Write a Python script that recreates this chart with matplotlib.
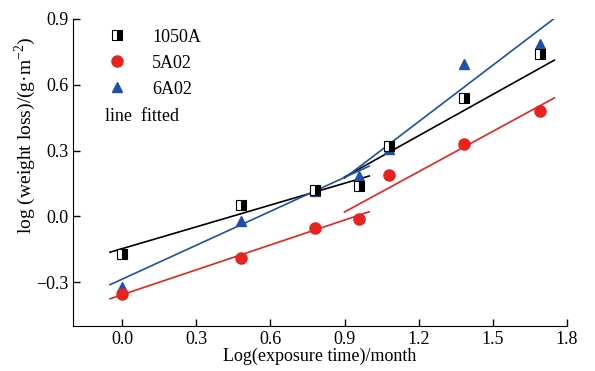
import numpy as np
import matplotlib
matplotlib.use("Agg")
import matplotlib.pyplot as plt
from matplotlib.lines import Line2D
from matplotlib.ticker import FuncFormatter

plt.rcParams['font.family'] = ['Liberation Serif', 'DejaVu Serif']
plt.rcParams['font.size'] = 13

# log(exposure time) in months
log_time = [0.0, 0.48, 0.78, 0.96, 1.08, 1.385, 1.69]

# log(weight loss) per alloy
w_1050a = [-0.17, 0.05, 0.118, 0.14, 0.32, 0.54, 0.74]
w_5a02 = [-0.355, -0.19, -0.055, -0.013, 0.19, 0.33, 0.48]
w_6a02 = [-0.32, -0.02, 0.115, 0.186, 0.305, 0.695, 0.786]

# fitted lines: two segments each (slope, intercept) over given x ranges
seg_ranges = [(-0.05, 1.0), (0.9, 1.75)]
fit_1050a = [(0.331, -0.147), (0.627, -0.385)]
fit_5a02 = [(0.378, -0.357), (0.612, -0.531)]
fit_6a02 = [(0.515, -0.286), (0.857, -0.597)]

BLUE = '#1f4fa8'
RED = '#e8221e'


def fmt(v, pos):
    # one decimal, real minus sign
    return f"{v:.1f}".replace('-', '\u2212')


fig = plt.figure(figsize=(5.95, 3.71), dpi=100)
ax = fig.add_axes([0.1227, 0.1213, 0.8297, 0.8275])

# fitted lines
for fits, color in [(fit_1050a, 'black'), (fit_6a02, BLUE), (fit_5a02, RED)]:
    for (slope, icpt), (x0, x1) in zip(fits, seg_ranges):
        xs = np.array([x0, x1])
        ax.plot(xs, slope * xs + icpt, color=color, lw=1.2)

# data points
ax.plot(log_time, w_6a02, ls='none', marker='^', ms=7, color=BLUE)
ax.plot(log_time, w_5a02, ls='none', marker='o', ms=8, color=RED)
ax.plot(log_time, w_1050a, ls='none', marker='s', ms=6.5, fillstyle='right',
        markerfacecolor='black', markerfacecoloralt='white',
        markeredgecolor='black', markeredgewidth=0.8)

handles = [
    Line2D([], [], ls='none', marker='s', ms=6.5, fillstyle='right',
           markerfacecolor='black', markerfacecoloralt='white',
           markeredgecolor='black', markeredgewidth=0.8),
    Line2D([], [], ls='none', marker='o', ms=8, color=RED),
    Line2D([], [], ls='none', marker='^', ms=7, color=BLUE),
]
ax.legend(handles, ['1050A', '5A02', '6A02'], loc='upper left',
          bbox_to_anchor=(0.045, 1.01), frameon=False, handlelength=1.0,
          handletextpad=1.45, labelspacing=0.5, borderpad=0.2)
ax.text(0.065, 0.684, 'line  fitted', transform=ax.transAxes, va='center',
        ha='left')

ax.set_xlim(-0.2, 1.8)
ax.set_ylim(-0.5, 0.9)
ax.set_xticks([0.0, 0.3, 0.6, 0.9, 1.2, 1.5, 1.8])
ax.set_yticks([-0.3, 0.0, 0.3, 0.6, 0.9])
ax.xaxis.set_major_formatter(FuncFormatter(fmt))
ax.yaxis.set_major_formatter(FuncFormatter(fmt))
ax.tick_params(direction='in', length=5, width=1)
ax.spines['top'].set_visible(False)
ax.spines['right'].set_visible(False)
ax.set_xlabel('Log(exposure time)/month', labelpad=0)
ax.set_ylabel('log (weight loss)/(g\u00b7m$^{\\mathregular{-2}}$)', fontsize=14)
ax.yaxis.set_label_coords(-0.07, 0.62)

fig.savefig('out.png', dpi=100)
